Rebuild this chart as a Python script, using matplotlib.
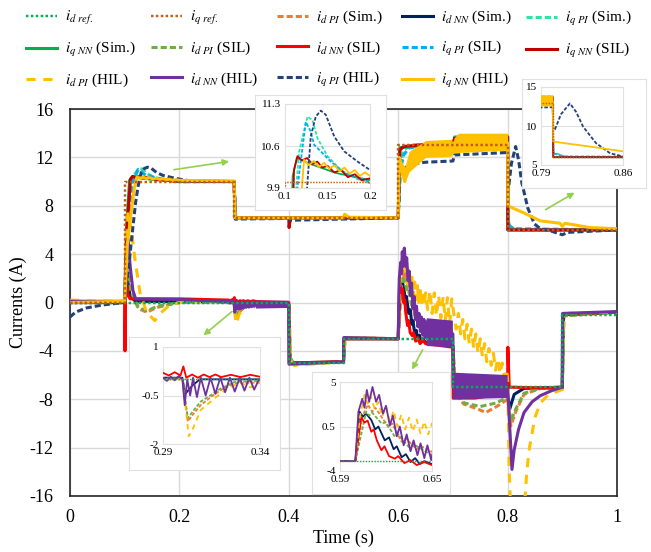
import numpy as np
import matplotlib
matplotlib.use('Agg')
import matplotlib.pyplot as plt

plt.rcParams['font.family'] = 'Liberation Serif'
plt.rcParams['mathtext.fontset'] = 'stix'
plt.rcParams['axes.unicode_minus'] = False

# ---- data: (time [s], current [A]) ----
id_ref = [(0, 0), (0.4, 0), (0.4, -5), (0.5, -5), (0.5, -3), (0.7, -3), (0.7, -7), (0.9, -7), (0.9, -1), (1.0, -1)]
iq_ref = [(0, 0), (0.1, 0), (0.1, 10), (0.3, 10), (0.3, 7), (0.6, 7), (0.6, 13), (0.8, 13), (0.8, 6), (1.0, 6)]

id_pi_sim = [(0, 0), (0.1, 0), (0.103, 3.0), (0.112, 0.8), (0.125, -0.5), (0.14, -0.8), (0.16, -0.4), (0.2, 0.0), (0.3, 0.0),
             (0.3028, -1.3), (0.3059, -1.05), (0.3094, -0.8), (0.3146, -0.55), (0.3198, -0.33), (0.327, -0.12), (0.34, -0.1),
             (0.4, -0.2), (0.403, -4.6), (0.41, -5.1), (0.5, -4.9), (0.503, -2.9), (0.6, -3.0),
             (0.6045, 1.5), (0.6082, 2.7), (0.611, 2.0), (0.613, 2.4), (0.6214, 0.48), (0.624, 0.8), (0.6302, -1.05), (0.633, -0.7),
             (0.64, -1.8), (0.643, -1.5), (0.65, -2.06), (0.66, -2.8), (0.7, -3.6),
             (0.705, -7.6), (0.72, -8.4), (0.745, -8.8), (0.76, -9.1), (0.78, -8.6), (0.8, -8.0), (0.806, -10.2), (0.815, -9.0),
             (0.83, -7.6), (0.86, -7.1), (0.9, -7.0), (0.903, -1.1), (1.0, -0.8)]

id_nn_sim = [(0, 0), (0.1, 0), (0.103, 2.5), (0.11, 0.5), (0.12, 0.1), (0.3, 0.05), (0.3015, -0.45), (0.305, -0.2), (0.309, 0.0),
             (0.34, 0.0), (0.4, -0.2), (0.402, -5.0), (0.5, -4.9), (0.502, -3.0), (0.6, -3.0),
             (0.6027, 2.0), (0.605, 1.5), (0.607, 1.8), (0.6104, 1.16), (0.613, 0.2), (0.615, 0.5), (0.6192, -0.9), (0.622, -0.6),
             (0.625, -1.8), (0.627, -1.5), (0.6302, -2.6), (0.633, -2.3), (0.636, -3.1), (0.639, -2.7), (0.642, -3.3), (0.645, -3.0),
             (0.65, -3.3), (0.7, -3.6),
             (0.703, -7.4), (0.75, -7.8), (0.8, -7.6), (0.804, -8.8), (0.812, -7.6), (0.83, -7.1), (0.9, -7.0), (0.902, -1.0), (1.0, -0.8)]

iq_pi_sim = [(0, 0), (0.1, 0), (0.105, 6.0), (0.112, 9.7), (0.1165, 10.5), (0.1264, 11.09), (0.1323, 11.03), (0.1382, 10.73),
             (0.15, 10.43), (0.1657, 10.2), (0.185, 10.05), (0.2, 9.98), (0.3, 10.0), (0.303, 6.9), (0.31, 7.0), (0.6, 7.0),
             (0.604, 11.5), (0.61, 12.6), (0.62, 13.0), (0.7, 13.2), (0.703, 13.7), (0.8, 13.8), (0.8005, 6.6), (0.803, 6.5),
             (0.81, 6.1), (0.82, 6.0), (1.0, 6.0)]

iq_nn_sim = [(0, 0), (0.1, 0), (0.103, 6.0), (0.109, 10.1), (0.114, 10.4), (0.13, 10.3), (0.16, 10.15), (0.2, 10.03), (0.3, 10.0),
             (0.302, 7.0), (0.6, 7.0), (0.603, 12.8), (0.7, 13.2), (0.703, 13.5), (0.8, 13.5), (0.8005, 6.0), (1.0, 6.0)]

id_pi_sil = [(0, 0), (0.1, 0), (0.103, 3.0), (0.112, 0.8), (0.125, -0.4), (0.14, -0.7), (0.16, -0.3), (0.2, 0.0), (0.29, 0.03),
             (0.3, 0.03), (0.3028, -1.2), (0.3059, -0.95), (0.3094, -0.69), (0.3146, -0.49), (0.3198, -0.28), (0.327, -0.08),
             (0.34, -0.05), (0.4, -0.2), (0.403, -4.6), (0.41, -5.1), (0.5, -4.9), (0.503, -2.9), (0.6, -3.0),
             (0.6071, 2.0), (0.609, 1.6), (0.611, 1.9), (0.617, 0.82), (0.62, 0.9), (0.6258, -0.54), (0.628, -0.3), (0.635, -1.6),
             (0.638, -1.3), (0.65, -2.4), (0.66, -3.0), (0.7, -3.6),
             (0.705, -7.3), (0.72, -8.3), (0.75, -8.6), (0.78, -8.3), (0.8, -7.8), (0.806, -9.8), (0.815, -8.8), (0.83, -7.5),
             (0.86, -7.1), (0.9, -7.0), (0.903, -1.1), (1.0, -0.8)]

id_nn_sil = [(0, 0.1), (0.1, 0.1), (0.1005, -4.0), (0.102, 2.5), (0.106, 0.6), (0.11, 0.3), (0.2, 0.3), (0.29, 0.2), (0.293, 0.12),
             (0.296, 0.22), (0.299, 0.12), (0.3005, 0.4), (0.302, 0.05), (0.305, 0.15), (0.308, 0.05), (0.311, 0.15), (0.314, 0.07),
             (0.317, 0.15), (0.32, 0.07), (0.325, 0.14), (0.33, 0.07), (0.335, 0.14), (0.34, 0.08), (0.4, 0.0), (0.4005, -5.0),
             (0.5, -4.9), (0.5005, -3.0), (0.6, -3.0),
             (0.6038, 1.43), (0.606, 0.9), (0.608, 1.1), (0.6104, -0.03), (0.612, 0.2), (0.614, -0.9), (0.617, -1.9), (0.619, -1.5),
             (0.622, -2.5), (0.6258, -2.75), (0.628, -2.5), (0.632, -3.2), (0.636, -2.9), (0.64, -3.4), (0.645, -3.1), (0.65, -3.4),
             (0.7, -3.7),
             (0.7005, -7.9), (0.74, -7.9), (0.77, -7.7), (0.8, -7.3), (0.8005, -3.7), (0.803, -7.0), (0.9, -7.1), (0.9005, -1.0),
             (1.0, -0.8)]

iq_pi_sil = [(0, 0), (0.1, 0), (0.105, 6.0), (0.1146, 9.9), (0.1244, 11.0), (0.13, 10.85), (0.1343, 10.62), (0.1421, 10.51),
             (0.1539, 10.34), (0.17, 10.15), (0.2, 10.0), (0.3, 10.0), (0.303, 6.9), (0.31, 7.0), (0.6, 7.0), (0.604, 11.0),
             (0.61, 12.2), (0.62, 12.8), (0.7, 13.1), (0.703, 13.6), (0.8, 13.7), (0.8005, 6.5), (0.81, 6.1), (1.0, 6.0)]

iq_nn_sil = [(0, 0), (0.1, 0), (0.104, 6.0), (0.1106, 10.2), (0.1146, 10.43), (0.12, 10.36), (0.126, 10.4), (0.132, 10.3),
             (0.138, 10.34), (0.144, 10.24), (0.15, 10.27), (0.158, 10.16), (0.166, 10.2), (0.174, 10.08), (0.182, 10.13),
             (0.19, 10.03), (0.2, 10.06), (0.3, 10.0), (0.302, 7.0), (0.4, 7.0), (0.4005, 6.2), (0.403, 7.0), (0.6, 7.0),
             (0.603, 12.6), (0.61, 12.9), (0.7, 13.3), (0.7005, 12.8), (0.703, 13.6), (0.8, 13.7), (0.8005, 6.0), (1.0, 6.0)]

id_pi_hil = [(0, 0.2), (0.1, 0.1), (0.102, 5.0), (0.106, 7.5), (0.113, 5.7), (0.119, 3.5), (0.128, 0.8), (0.14, -0.8),
             (0.155, -1.5), (0.165, -0.9), (0.18, -0.3), (0.2, 0.0), (0.3, 0.0), (0.3033, -1.76), (0.3059, -1.46),
             (0.3094, -0.95), (0.3146, -0.69), (0.3198, -0.43), (0.3249, -0.23), (0.33, -0.1), (0.335, -0.25), (0.34, -0.1),
             (0.4, -0.2), (0.403, -4.8), (0.41, -5.2), (0.5, -4.9), (0.503, -2.9), (0.6, -3.0),
             (0.603, 1.5), (0.606, 3.7), (0.608, 2.8), (0.61, 3.6), (0.6125, 2.3), (0.615, 3.0), (0.6175, 1.5), (0.62, 2.5),
             (0.6225, 1.0), (0.625, 2.1), (0.6275, 0.5), (0.63, 1.7), (0.6325, 0.2), (0.635, 1.4), (0.6375, 0.0), (0.64, 1.2),
             (0.6425, -0.2), (0.645, 1.0), (0.6475, -0.3), (0.65, 0.8),
             (0.654, -0.6), (0.658, 1.0), (0.662, -0.9), (0.666, 0.8), (0.67, -1.1), (0.674, 0.6), (0.678, -1.3), (0.682, 0.5),
             (0.686, -1.5), (0.69, 0.4), (0.694, -1.8), (0.698, 0.3),
             (0.702, -1.0), (0.706, -2.2), (0.71, -0.9), (0.714, -2.6), (0.718, -1.4), (0.722, -3.0), (0.726, -1.8), (0.73, -3.4),
             (0.734, -2.2), (0.738, -3.8), (0.742, -2.6), (0.746, -4.2), (0.75, -3.0), (0.754, -4.5), (0.758, -3.4), (0.762, -4.9),
             (0.766, -3.8), (0.77, -5.2), (0.774, -4.2), (0.778, -5.6), (0.782, -4.6), (0.786, -5.9), (0.79, -5.0), (0.794, -6.2),
             (0.798, -5.5), (0.8, -6.3),
             (0.803, -14.0), (0.806, -17.5), (0.83, -17.5), (0.835, -14.0), (0.84, -12.0), (0.85, -9.5), (0.86, -8.3),
             (0.875, -7.6), (0.9, -7.2), (0.902, -1.2), (0.91, -0.9), (1.0, -0.8)]

id_nn_hil = [(0, 0.1), (0.1, 0.05), (0.102, 3.0), (0.106, 5.3), (0.11, 3.0), (0.115, 1.0), (0.12, 0.3), (0.2, 0.25), (0.29, 0.05),
             (0.292, -0.05), (0.294, 0.08), (0.296, -0.03), (0.298, 0.1), (0.3, 0.0), (0.3012, -0.8), (0.3025, 0.0), (0.304, -0.5),
             (0.3055, 0.05), (0.3075, -0.55), (0.3095, 0.05), (0.312, -0.5), (0.3145, 0.05), (0.317, -0.45), (0.3195, 0.05),
             (0.322, -0.4), (0.3245, 0.05), (0.327, -0.38), (0.3295, 0.05), (0.332, -0.35), (0.3345, 0.05), (0.337, -0.32),
             (0.3395, 0.0), (0.4, -0.15), (0.4005, -5.1), (0.5, -4.9), (0.5005, -2.9), (0.6, -3.0),
             (0.602, 2.0), (0.6045, 3.3), (0.606, 2.4), (0.6075, 4.2), (0.609, 3.0), (0.6112, 4.5), (0.6135, 3.0), (0.6155, 3.7),
             (0.618, 1.8), (0.62, 2.6), (0.6225, 0.6), (0.6245, 1.6), (0.627, -0.5), (0.629, 0.5), (0.6315, -1.4), (0.6335, -0.3),
             (0.636, -2.0), (0.638, -0.9), (0.6405, -2.4), (0.6425, -1.2), (0.645, -2.7), (0.647, -1.4), (0.6495, -2.9),
             (0.6515, -1.6), (0.7, -2.6), (0.7005, -7.0), (0.8, -7.0), (0.808, -13.8), (0.812, -12.2), (0.82, -10.5),
             (0.83, -9.1), (0.845, -8.2), (0.86, -7.7), (0.88, -7.3), (0.9, -7.0), (0.9005, -0.9), (1.0, -0.75)]

iq_pi_hil = [(0, -1.2), (0.01, -0.8), (0.03, -0.45), (0.06, -0.2), (0.1, 0.0), (0.104, 1.5), (0.112, 5.0), (0.12, 8.3),
             (0.1244, 9.6), (0.1303, 10.76), (0.1362, 11.09), (0.1421, 11.19), (0.148, 11.12), (0.1579, 10.76), (0.1697, 10.51),
             (0.1854, 10.34), (0.2, 10.2), (0.22, 10.05), (0.3, 10.0), (0.302, 6.9), (0.4, 6.95), (0.403, 6.8), (0.5, 6.9),
             (0.6, 7.0), (0.603, 10.8), (0.61, 11.0), (0.62, 11.4), (0.65, 11.6), (0.7, 11.7), (0.703, 12.2), (0.8, 12.4),
             (0.8005, 9.5), (0.802, 9.6), (0.807, 11.5), (0.8147, 12.9), (0.82, 11.8), (0.826, 9.9), (0.837, 7.8), (0.849, 6.5),
             (0.86, 6.1), (0.88, 5.9), (0.9, 5.6), (0.91, 5.8), (1.0, 6.0)]

iq_nn_hil = [(0, 0.0), (0.1, 0.1), (0.105, 4.9), (0.112, 7.5), (0.1177, 9.5), (0.1224, 10.37), (0.128, 10.28), (0.134, 10.35),
             (0.14, 10.25), (0.146, 10.32), (0.152, 10.22), (0.158, 10.28), (0.164, 10.18), (0.17, 10.24), (0.176, 10.14),
             (0.182, 10.2), (0.188, 10.1), (0.194, 10.16), (0.2, 10.1), (0.3, 10.05), (0.302, 7.0), (0.5, 7.0), (0.502, 7.3),
             (0.51, 7.05), (0.6, 7.0), (0.602, 12.0), (0.606, 11.0), (0.612, 10.0), (0.618, 11.2), (0.625, 12.3), (0.65, 12.7),
             (0.7, 12.8), (0.702, 13.2), (0.8, 13.2), (0.8005, 8.0), (0.81, 7.8), (0.83, 7.4), (0.86, 6.75), (0.896, 6.55),
             (0.9, 6.3), (0.905, 6.55), (0.95, 6.2), (1.0, 6.1)]

# oscillation envelopes (too fast to trace one by one)
nn_hil_d_band_t = [0.34, 0.4, 0.4, 0.652, 0.7, 0.7, 0.8]
nn_hil_d_band_lo = [-0.5, -0.45, np.nan, -3.6, -3.7, -8.0, -7.9]
nn_hil_d_band_hi = [0.15, 0.15, np.nan, -1.3, -1.5, -5.8, -6.0]
nn_hil_q_band_t = [0.603, 0.608, 0.612, 0.62, 0.65, 0.698, 0.7, 0.702, 0.71, 0.8]
nn_hil_q_band_lo = [10.8, 10.2, 9.9, 10.8, 12.0, 12.1, 12.3, 12.4, 12.4, 12.6]
nn_hil_q_band_hi = [12.0, 11.5, 11.2, 12.5, 13.4, 13.5, 13.0, 13.6, 14.0, 14.0]

labels = [r'$i_{d\ ref.}$', r'$i_{q\ ref.}$', r'$i_{d\ PI}$ (Sim.)', r'$i_{d\ NN}$ (Sim.)', r'$i_{q\ PI}$ (Sim.)',
          r'$i_{q\ NN}$ (Sim.)', r'$i_{d\ PI}$ (SIL)', r'$i_{d\ NN}$ (SIL)', r'$i_{q\ PI}$ (SIL)', r'$i_{q\ NN}$ (SIL)',
          r'$i_{d\ PI}$ (HIL)', r'$i_{d\ NN}$ (HIL)', r'$i_{q\ PI}$ (HIL)', r'$i_{q\ NN}$ (HIL)']

# data, colour, dash pattern (None = solid)
series = [
    (id_ref, '#00B050', (1, 1)),
    (iq_ref, '#C55A11', (1, 1)),
    (id_pi_sim, '#ED7D31', (2, 1)),
    (id_nn_sim, '#002060', None),
    (iq_pi_sim, '#2FE3A3', (2, 1)),
    (iq_nn_sim, '#00B050', None),
    (id_pi_sil, '#70AD47', (2, 1)),
    (id_nn_sil, '#FF0000', None),
    (iq_pi_sil, '#00B0F0', (2, 1)),
    (iq_nn_sil, '#C00000', None),
    (id_pi_hil, '#FFC000', (3, 2.5)),
    (id_nn_hil, '#7030A0', None),
    (iq_pi_hil, '#24427A', (2, 1)),
    (iq_nn_hil, '#FFC000', None),
]


def draw(ax, lw):
    lines = []
    for i, (data, color, dash) in enumerate(series):
        t, v = np.array(data, dtype=float).T
        z = 5 if i < 2 else 2 + i * 0.1
        w = lw * 0.8 if i < 2 else lw
        if dash is None:
            ln, = ax.plot(t, v, color=color, lw=w, zorder=z, solid_joinstyle='round')
        else:
            ln, = ax.plot(t, v, color=color, lw=w, zorder=z, dashes=dash)
        if data is id_nn_hil:
            ax.fill_between(nn_hil_d_band_t, nn_hil_d_band_lo, nn_hil_d_band_hi, color=color, lw=0, zorder=z)
        if data is iq_nn_hil:
            ax.fill_between(nn_hil_q_band_t, nn_hil_q_band_lo, nn_hil_q_band_hi, color=color, lw=0, zorder=z)
        lines.append(ln)
    return lines


W, H = 651, 552
fig = plt.figure(figsize=(W / 100, H / 100), dpi=100)


def px(x0, y0, x1, y1):
    return [x0 / W, 1 - y1 / H, (x1 - x0) / W, (y1 - y0) / H]


ax = fig.add_axes(px(70, 109, 617, 496))
lines = draw(ax, 2.2)
ax.set_xlim(0, 1)
ax.set_ylim(-16, 16)
ax.set_xticks(np.arange(0, 1.01, 0.2))
ax.set_xticklabels(['0', '0.2', '0.4', '0.6', '0.8', '1'])
ax.set_yticks(np.arange(-16, 17, 4))
ax.tick_params(length=0, labelsize=13)
ax.tick_params(axis='x', pad=9)
ax.tick_params(axis='y', pad=12)
ax.grid(True, color='#D9D9D9', lw=1)
ax.set_axisbelow(True)
for s in ax.spines.values():
    s.set_color('#262626')
    s.set_linewidth(1.2)
ax.set_xlabel('Time (s)', fontsize=13, labelpad=3)
ax.set_ylabel('Currents (A)', fontsize=13, labelpad=2)

arrow = dict(arrowstyle='-|>', color='#92D050', lw=1.2, mutation_scale=9)
ax.annotate('', xy=(0.296, 11.7), xytext=(0.185, 10.95), arrowprops=arrow)
ax.annotate('', xy=(0.927, 9.2), xytext=(0.865, 7.56), arrowprops=arrow)
ax.annotate('', xy=(0.24, -2.86), xytext=(0.30, -0.6), arrowprops=arrow)
ax.annotate('', xy=(0.623, -5.75), xytext=(0.647, -3.7), arrowprops=arrow)

# zoomed insets: (box, inner axes, xlim, ylim, xticks, xticklabels, yticks, yticklabels)
insets = [
    ((255, 95, 386, 210), (285, 104, 370, 188), (0.1, 0.2), (9.9, 11.3),
     [0.1, 0.15, 0.2], ['0.1', '0.15', '0.2'], [9.9, 10.6, 11.3], ['9.9', '10.6', '11.3']),
    ((522, 79, 646, 188), (541, 87, 623, 165), (0.79, 0.86), (5, 15),
     [0.79, 0.86], ['0.79', '0.86'], [5, 10, 15], ['5', '10', '15']),
    ((129, 337, 280, 470), (163, 347, 260, 444), (0.29, 0.34), (-2, 1),
     [0.29, 0.34], ['0.29', '0.34'], [-2, -0.5, 1], ['-2', '-0.5', '1']),
    ((312, 372, 450, 494), (340, 382, 432, 471), (0.59, 0.65), (-4, 5),
     [0.59, 0.65], ['0.59', '0.65'], [-4, 0.5, 5], ['-4', '0.5', '5']),
]
for box, inner, xl, yl, xt, xtl, yt, ytl in insets:
    bx = fig.add_axes(px(*box))
    bx.set_xticks([])
    bx.set_yticks([])
    for s in bx.spines.values():
        s.set_color('#E0E0E0')
    ia = fig.add_axes(px(*inner))
    draw(ia, 1.3)
    ia.set_xlim(*xl)
    ia.set_ylim(*yl)
    ia.set_xticks(xt)
    ia.set_xticklabels(xtl)
    ia.set_yticks(yt)
    ia.set_yticklabels(ytl)
    ia.tick_params(length=0, labelsize=8, pad=3)
    ia.grid(True, axis='y', color='#E0E0E0', lw=0.8)
    ia.set_axisbelow(True)
    for s in ia.spines.values():
        s.set_color('#E0E0E0')

# legend: one block per column so the columns line up as in the original
col_x = [26, 151, 277, 402, 526]
for c in range(5):
    idx = [c + 5 * r for r in range(3) if c + 5 * r < len(labels)]
    fig.legend([lines[i] for i in idx], [labels[i] for i in idx], loc='upper left',
               bbox_to_anchor=(col_x[c] / W, 1 - 9 / H), frameon=False, fontsize=11,
               handlelength=2.0, handletextpad=0.55, labelspacing=0.85,
               borderpad=0, borderaxespad=0)

fig.savefig('out.png', dpi=100)
